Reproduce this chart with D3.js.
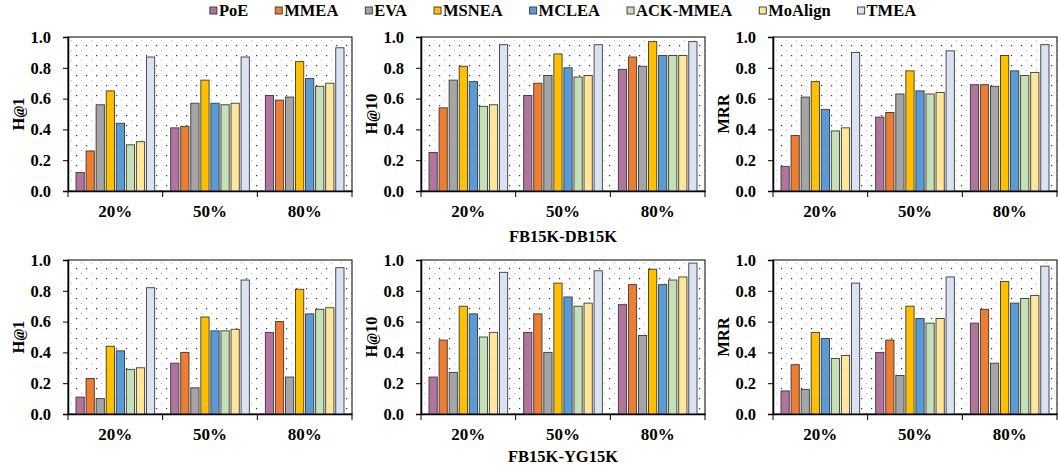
<!DOCTYPE html>
<html>
<head>
<meta charset="utf-8">
<script src="https://cdn.jsdelivr.net/npm/d3@7"></script>
<style>
  body { margin: 0; background: #fff; }
  text { font-family: "Liberation Serif", "Times New Roman", serif; font-weight: bold; }
</style>
</head>
<body>
<div class="canvas"></div>
<script>
// methods + colours
const methods = ["PoE", "MMEA", "EVA", "MSNEA", "MCLEA", "ACK-MMEA", "MoAlign", "TMEA"];
const colors = ["#B0749F", "#ED7D31", "#A5A5A5", "#FFC000", "#5B9BD5", "#C5E0B4", "#FFE699", "#DAE3F3"];
const ratios = ["20%", "50%", "80%"];
const yTicks = [0, 0.2, 0.4, 0.6, 0.8, 1.0];

// FB15K-DB15K (one row per ratio, one value per method)
const dbH1 = [
  [0.12, 0.26, 0.56, 0.65, 0.44, 0.30, 0.32, 0.87],
  [0.41, 0.42, 0.57, 0.72, 0.57, 0.56, 0.57, 0.87],
  [0.62, 0.59, 0.61, 0.84, 0.73, 0.68, 0.70, 0.93]
];
const dbH10 = [
  [0.25, 0.54, 0.72, 0.81, 0.71, 0.55, 0.56, 0.95],
  [0.62, 0.70, 0.75, 0.89, 0.80, 0.74, 0.75, 0.95],
  [0.79, 0.87, 0.81, 0.97, 0.88, 0.88, 0.88, 0.97]
];
const dbMRR = [
  [0.16, 0.36, 0.61, 0.71, 0.53, 0.39, 0.41, 0.90],
  [0.48, 0.51, 0.63, 0.78, 0.65, 0.63, 0.64, 0.91],
  [0.69, 0.69, 0.68, 0.88, 0.78, 0.75, 0.77, 0.95]
];

// FB15K-YG15K
const ygH1 = [
  [0.11, 0.23, 0.10, 0.44, 0.41, 0.29, 0.30, 0.82],
  [0.33, 0.40, 0.17, 0.63, 0.54, 0.54, 0.55, 0.87],
  [0.53, 0.60, 0.24, 0.81, 0.65, 0.68, 0.69, 0.95]
];
const ygH10 = [
  [0.24, 0.48, 0.27, 0.70, 0.65, 0.50, 0.53, 0.92],
  [0.53, 0.65, 0.40, 0.85, 0.76, 0.70, 0.72, 0.93],
  [0.71, 0.84, 0.51, 0.94, 0.84, 0.87, 0.89, 0.98]
];
const ygMRR = [
  [0.15, 0.32, 0.16, 0.53, 0.49, 0.36, 0.38, 0.85],
  [0.40, 0.48, 0.25, 0.70, 0.62, 0.59, 0.62, 0.89],
  [0.59, 0.68, 0.33, 0.86, 0.72, 0.75, 0.77, 0.96]
];

const W = 1058, H = 467;
const svg = d3.select(".canvas").append("svg")
    .attr("width", W)
    .attr("height", H);

// dotted background pattern (excel style)
const pat = svg.append("defs").append("pattern")
    .attr("id", "dots")
    .attr("patternUnits", "userSpaceOnUse")
    .attr("width", 10).attr("height", 10);
pat.append("rect").attr("x", 8).attr("y", 8).attr("width", 1.2).attr("height", 1.2).attr("fill", "#333");
pat.append("rect").attr("x", 3).attr("y", 3).attr("width", 1).attr("height", 1).attr("fill", "#bbb");

const panelW = 284, panelH = 154;
const colLeft = [68, 421, 773];
const rowTop = [37, 260];

const panels = [
  { data: dbH1, label: ["H", "@", "1"], col: 0, row: 0 },
  { data: dbH10, label: ["H", "@", "10"], col: 1, row: 0 },
  { data: dbMRR, label: ["MRR"], col: 2, row: 0 },
  { data: ygH1, label: ["H", "@", "1"], col: 0, row: 1 },
  { data: ygH10, label: ["H", "@", "10"], col: 1, row: 1 },
  { data: ygMRR, label: ["MRR"], col: 2, row: 1 }
];

const y = d3.scaleLinear().domain([0, 1]).range([panelH, 0]);
const x0 = d3.scaleBand().domain(ratios).range([0, panelW]);
const x1 = d3.scaleBand().domain(methods)
    .range([8, x0.bandwidth() - 8])
    .paddingInner(0.18);

panels.forEach(p => {
  const g = svg.append("g")
      .attr("transform", `translate(${colLeft[p.col]}, ${rowTop[p.row]})`);

  g.append("rect")
      .attr("width", panelW).attr("height", panelH)
      .attr("fill", "url(#dots)")
      .attr("stroke", "#000")
      .attr("stroke-width", 1);

  // bars
  const groups = g.selectAll("g.grp")
    .data(p.data)
    .enter().append("g")
      .attr("class", "grp")
      .attr("transform", (d, i) => `translate(${x0(ratios[i])}, 0)`);

  groups.selectAll("rect")
    .data(d => d.map((v, j) => ({ m: methods[j], v: v, c: colors[j] })))
    .enter().append("rect")
      .attr("x", d => x1(d.m))
      .attr("y", d => y(d.v))
      .attr("width", x1.bandwidth())
      .attr("height", d => panelH - y(d.v))
      .attr("fill", d => d.c)
      .attr("stroke", "#3a3a3a")
      .attr("stroke-width", 0.9);

  // y axis
  const yAxis = g.append("g")
      .call(d3.axisLeft(y).tickValues(yTicks).tickFormat(d3.format(".1f")).tickSize(5).tickPadding(12));
  yAxis.select(".domain").attr("stroke-width", 1.5);
  yAxis.selectAll("text").style("font-size", "16.5px").attr("fill", "#000");

  // x axis: ticks at group boundaries
  const xAxis = g.append("g")
      .attr("transform", `translate(0, ${panelH})`)
      .call(d3.axisBottom(x0).tickSize(0).tickPadding(14));
  xAxis.select(".domain").attr("stroke-width", 1.5);
  xAxis.selectAll("text").style("font-size", "17px").attr("fill", "#000");
  xAxis.selectAll("line.sep")
    .data(d3.range(ratios.length + 1))
    .enter().append("line")
      .attr("class", "sep")
      .attr("x1", i => i * x0.step()).attr("x2", i => i * x0.step())
      .attr("y1", 0).attr("y2", 6)
      .attr("stroke", "#000");

  // y label
  const lab = g.append("text")
      .attr("transform", `translate(-50, ${panelH / 2}) rotate(-90)`)
      .attr("text-anchor", "middle")
      .attr("dy", "0.35em")
      .style("font-size", "16.5px");
  p.label.forEach(s => {
    const t = lab.append("tspan").text(s);
    if (s === "@") t.style("font-style", "italic").style("font-size", "14px");
  });
});

// dataset titles
svg.append("text")
    .attr("x", 563).attr("y", 242)
    .attr("text-anchor", "middle")
    .style("font-size", "16.5px")
    .text("FB15K-DB15K");
svg.append("text")
    .attr("x", 563).attr("y", 462)
    .attr("text-anchor", "middle")
    .style("font-size", "16.5px")
    .text("FB15K-YG15K");

// legend, laid out from text widths and centred
const legend = svg.append("g");
let lx = 0;
methods.forEach((m, i) => {
  const item = legend.append("g").attr("transform", `translate(${lx}, 0)`);
  item.append("rect")
      .attr("x", 0).attr("y", 7)
      .attr("width", 7).attr("height", 7)
      .attr("fill", colors[i])
      .attr("stroke", "#333")
      .attr("stroke-width", 0.9);
  const t = item.append("text")
      .attr("x", 9).attr("y", 15.5)
      .style("font-size", "16.5px")
      .text(m);
  lx += 9 + t.node().getComputedTextLength() + 27;
});
const legW = lx - 27;
legend.attr("transform", `translate(${563 - legW / 2}, 0)`);
</script>
</body>
</html>
